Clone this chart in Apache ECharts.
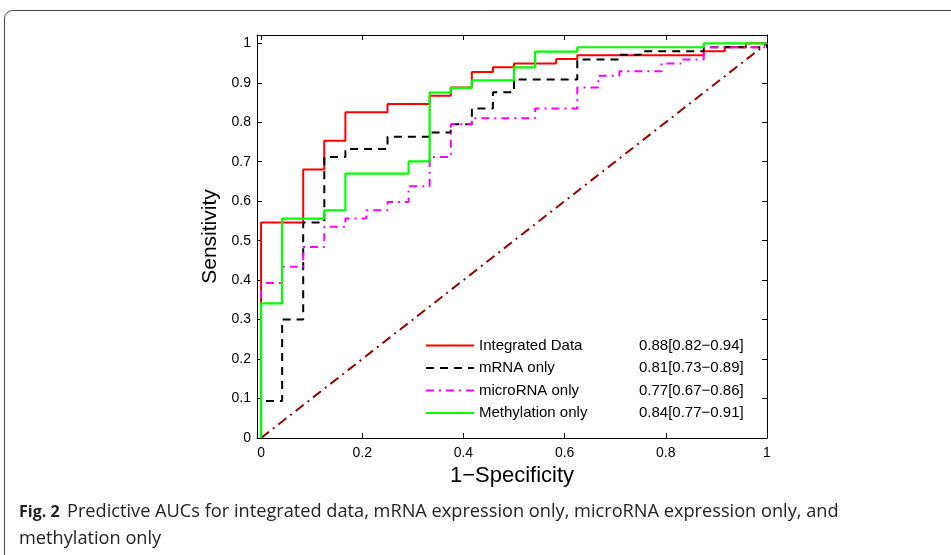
<!DOCTYPE html>
<html>
<head>
<meta charset="utf-8">
<script src="https://cdn.jsdelivr.net/npm/echarts@6/dist/echarts.min.js"></script>
<style>
html, body { margin: 0; padding: 0; background: #fff; }
#chart { width: 951px; height: 555px; }
</style>
</head>
<body>
<div id="chart"></div>
<script>
// series names and AUC text shown in the legend
var seriesNames = ["Integrated Data", "mRNA only", "microRNA only", "Methylation only"];
var aucLabels = ["0.88[0.82\u22120.94]", "0.81[0.73\u22120.89]", "0.77[0.67\u22120.86]", "0.84[0.77\u22120.91]"];

// ROC step corners (1-specificity, sensitivity)
var integratedFpr = [0, 0, 0.0833, 0.125, 0.1667, 0.25, 0.3333, 0.375, 0.4167, 0.4583, 0.5, 0.5833, 0.625, 0.875, 0.9167, 0.9583, 1];
var integratedTpr = [0, 0.546, 0.680, 0.753, 0.825, 0.846, 0.867, 0.888, 0.927, 0.939, 0.949, 0.960, 0.970, 0.980, 0.990, 1, 1];

var mrnaFpr = [0, 0, 0.0417, 0.0833, 0.125, 0.1667, 0.25, 0.3333, 0.375, 0.4167, 0.4583, 0.5, 0.625, 0.7083, 0.75, 0.875, 1];
var mrnaTpr = [0, 0.094, 0.300, 0.546, 0.712, 0.732, 0.763, 0.774, 0.795, 0.835, 0.876, 0.908, 0.959, 0.971, 0.980, 0.990, 1];

var microFpr = [0, 0, 0.0417, 0.0833, 0.125, 0.1667, 0.2083, 0.25, 0.2917, 0.3333, 0.375, 0.4167, 0.5417, 0.625, 0.6667, 0.7083, 0.7917, 0.8333, 0.875, 1];
var microTpr = [0, 0.393, 0.434, 0.484, 0.535, 0.556, 0.577, 0.598, 0.638, 0.712, 0.795, 0.810, 0.835, 0.888, 0.918, 0.929, 0.949, 0.959, 0.990, 1];

var methylFpr = [0, 0, 0.0417, 0.125, 0.1667, 0.2917, 0.3333, 0.375, 0.4167, 0.5, 0.5417, 0.625, 0.875, 1];
var methylTpr = [0, 0.341, 0.556, 0.577, 0.670, 0.701, 0.875, 0.887, 0.906, 0.939, 0.979, 0.990, 1, 1];

// chance line
var chanceX = [0, 1];
var chanceY = [0, 1];

var xTicks = [0, 0.2, 0.4, 0.6, 0.8, 1];
var yTicks = [0, 0.1, 0.2, 0.3, 0.4, 0.5, 0.6, 0.7, 0.8, 0.9, 1];

function pairs(xs, ys) {
  return xs.map(function (x, i) { return [x, ys[i]]; });
}

var font = "Liberation Sans, Arial, sans-serif";
var chart = echarts.init(document.getElementById("chart"));

function axisBase(extra) {
  var a = {
    type: "value",
    axisLine: { show: true, onZero: false, lineStyle: { color: "#000", width: 1 } },
    splitLine: { show: false }
  };
  for (var k in extra) a[k] = extra[k];
  return a;
}

function ticks(vals) {
  return { show: true, inside: true, length: 5, customValues: vals, lineStyle: { color: "#000" } };
}

chart.setOption({
  animation: false,
  grid: { left: 257, right: 184, top: 35, bottom: 117 },
  legend: {
    data: seriesNames,
    orient: "vertical",
    left: 425,
    top: 338,
    padding: 0,
    itemWidth: 48,
    itemHeight: 14,
    itemGap: 7.5,
    itemStyle: { opacity: 0 },
    formatter: function (name) {
      return "{a|" + name + "}{b|" + aucLabels[seriesNames.indexOf(name)] + "}";
    },
    textStyle: {
      rich: {
        a: { width: 160, fontSize: 15, lineHeight: 15, fontFamily: font, color: "#000" },
        b: { fontSize: 15, lineHeight: 15, fontFamily: font, color: "#000" }
      }
    }
  },
  xAxis: [
    axisBase({
      min: -0.008, max: 1,
      name: "1\u2212Specificity", nameLocation: "middle", nameGap: 21,
      nameTextStyle: { fontSize: 22, fontFamily: font, color: "#000" },
      axisTick: ticks(xTicks),
      axisLabel: { color: "#000", fontSize: 14, fontFamily: font, margin: 8, customValues: xTicks }
    }),
    axisBase({
      min: -0.008, max: 1, position: "top",
      axisTick: ticks(xTicks),
      axisLabel: { show: false }
    })
  ],
  yAxis: [
    axisBase({
      min: 0, max: 1.021,
      name: "Sensitivity", nameLocation: "middle", nameGap: 34,
      nameTextStyle: { fontSize: 21, fontFamily: font, color: "#000" },
      axisTick: ticks(yTicks),
      axisLabel: { color: "#000", fontSize: 14, fontFamily: font, margin: 6, customValues: yTicks }
    }),
    axisBase({
      min: 0, max: 1.021, position: "right",
      axisTick: ticks(yTicks),
      axisLabel: { show: false }
    })
  ],
  series: [
    {
      name: "chance", type: "line", symbol: "none", silent: true,
      data: pairs(chanceX, chanceY),
      lineStyle: { color: "#990000", width: 2, type: [10, 5, 2, 5] }
    },
    {
      name: seriesNames[0], type: "line", step: "end", symbol: "none",
      data: pairs(integratedFpr, integratedTpr),
      color: "#ff0000",
      lineStyle: { color: "#ff0000", width: 2 }
    },
    {
      name: seriesNames[1], type: "line", step: "end", symbol: "none",
      data: pairs(mrnaFpr, mrnaTpr),
      color: "#000000",
      lineStyle: { color: "#000000", width: 2, type: [8, 6] }
    },
    {
      name: seriesNames[2], type: "line", step: "end", symbol: "none",
      data: pairs(microFpr, microTpr),
      color: "#ff00ff",
      lineStyle: { color: "#ff00ff", width: 2, type: [8, 5, 2, 5] }
    },
    {
      name: seriesNames[3], type: "line", step: "end", symbol: "none",
      data: pairs(methylFpr, methylTpr),
      color: "#00ff00",
      lineStyle: { color: "#00ff00", width: 2.2 }
    }
  ],
  graphic: [
    {
      type: "rect", silent: true,
      shape: { x: 4.5, y: 10.5, width: 1000, height: 700, r: 8 },
      style: { fill: null, stroke: "#444", lineWidth: 1 }
    },
    {
      type: "text", left: 19, top: 504,
      style: { text: "Fig. 2", font: "bold 16px 'Open Sans', sans-serif", fill: "#222" }
    },
    {
      type: "text", left: 67, top: 503,
      style: { text: "Predictive AUCs for integrated data, mRNA expression only, microRNA expression only, and", font: "18.2px 'Open Sans', sans-serif", fill: "#222" }
    },
    {
      type: "text", left: 19, top: 530,
      style: { text: "methylation only", font: "18.2px 'Open Sans', sans-serif", fill: "#222" }
    }
  ]
});
</script>
</body>
</html>
